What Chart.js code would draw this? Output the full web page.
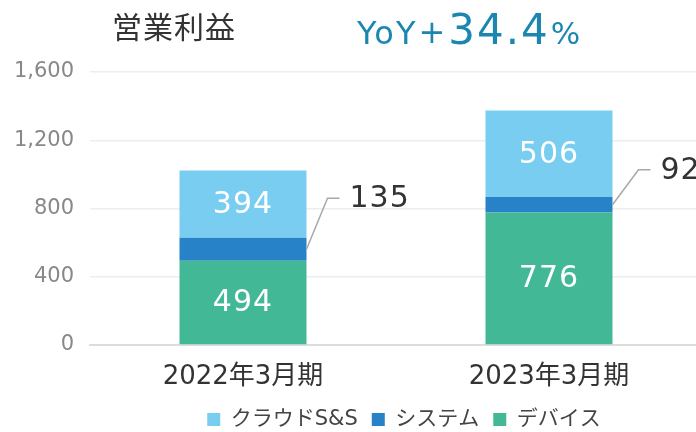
<!DOCTYPE html>
<html>
<head>
<meta charset="utf-8">
<script src="https://cdn.jsdelivr.net/npm/chart.js@4.4.1/dist/chart.umd.min.js"></script>
<style>
  body { margin: 0; overflow: hidden; background: #fff; }
  #wrap { width: 808px; height: 432px; position: relative; }
</style>
</head>
<body>
<div id="wrap"><canvas id="myChart"></canvas></div>
<script>
'use strict';
// data
let periods = ['2022年3月期', '2023年3月期'];
let deviceValues = [494, 776];
let systemValues = [135, 92];
let cloudValues = [394, 506];
let yTicks = [0, 400, 800, 1200, 1600];
let titleText = '営業利益';
let yoyText = '34.4';

let cjkFont = '"Noto Sans CJK JP", sans-serif';
let mixFont = '"DejaVu Sans", "Noto Sans CJK JP", sans-serif';

// leader line offsets for the small システム labels (dx, dy from bar edge)
let leaderOffsets = [[21, -51], [26, -35]];

let headerPlugin = {
    id: 'header',
    afterDraw(chart) {
        let ctx = chart.ctx;
        ctx.save();
        ctx.textBaseline = 'alphabetic';
        ctx.textAlign = 'left';
        ctx.fillStyle = '#333';
        ctx.font = '30px ' + cjkFont;
        ctx.letterSpacing = '1px';
        ctx.fillText(titleText, 112, 38);

        ctx.fillStyle = '#1b87b1';
        ctx.letterSpacing = '2px';
        ctx.font = '32px ' + mixFont;
        let x = 357;
        ctx.fillText('YoY', x, 44);
        x += ctx.measureText('YoY').width + 1;
        ctx.font = '32px ' + mixFont;
        ctx.fillText('+', x, 43);
        x += ctx.measureText('+').width + 1;
        ctx.font = '42px ' + mixFont;
        ctx.fillText(yoyText, x, 44);
        x += ctx.measureText(yoyText).width + 1;
        ctx.font = '31px ' + mixFont;
        ctx.letterSpacing = '0px';
        ctx.fillText('%', x, 44);
        ctx.restore();
    }
};

let labelPlugin = {
    id: 'barLabels',
    afterDatasetsDraw(chart) {
        let ctx = chart.ctx;
        ctx.save();
        ctx.font = '30px ' + mixFont;
        ctx.letterSpacing = '1px';
        chart.data.datasets.forEach(function (ds, di) {
            let meta = chart.getDatasetMeta(di);
            meta.data.forEach(function (bar, i) {
                let mid = (bar.y + bar.base) / 2;
                if (ds.label === 'システム') {
                    let x0 = bar.x + bar.width / 2;
                    let x1 = x0 + leaderOffsets[i][0];
                    let y1 = mid + leaderOffsets[i][1];
                    ctx.strokeStyle = '#a8a8a8';
                    ctx.lineWidth = 1.5;
                    ctx.beginPath();
                    ctx.moveTo(x0, mid);
                    ctx.lineTo(x1, y1);
                    ctx.lineTo(x1 + 12, y1);
                    ctx.stroke();
                    ctx.fillStyle = '#333';
                    ctx.textAlign = 'left';
                    ctx.textBaseline = 'middle';
                    ctx.fillText(String(ds.data[i]), x1 + 22, y1 + 1);
                } else {
                    ctx.fillStyle = '#fff';
                    ctx.textAlign = 'center';
                    ctx.textBaseline = 'middle';
                    ctx.fillText(String(ds.data[i]), bar.x, mid + 1);
                }
            });
        });
        ctx.restore();
    }
};

let ctx = document.getElementById('myChart').getContext('2d');
let myChart = new Chart(ctx, {
    type: 'bar',
    data: {
        labels: periods,
        datasets: [
            { label: 'デバイス', data: deviceValues, backgroundColor: '#43b897' },
            { label: 'システム', data: systemValues, backgroundColor: '#2782c8' },
            { label: 'クラウドS&S', data: cloudValues, backgroundColor: '#79cdf0' }
        ]
    },
    options: {
        responsive: true,
        maintainAspectRatio: false,
        animation: false,
        datasets: {
            bar: { categoryPercentage: 1, barPercentage: 0.415 }
        },
        layout: { padding: { top: 72, left: 0, right: 0, bottom: -8 } },
        plugins: {
            title: { display: false },
            tooltip: { enabled: false },
            legend: {
                position: 'bottom',
                reverse: true,
                labels: {
                    boxWidth: 13,
                    boxHeight: 13,
                    padding: 14,
                    color: '#444',
                    font: { family: mixFont, size: 21 }
                }
            }
        },
        scales: {
            x: {
                stacked: true,
                grid: { display: false, drawTicks: false },
                border: { color: '#dcdcdc', width: 2 },
                ticks: { color: '#333', padding: 17, font: { family: mixFont, size: 26 } },
                afterFit: function (scale) { scale.height = 50; }
            },
            y: {
                stacked: true,
                min: 0,
                max: 1600,
                afterBuildTicks: function (scale) {
                    scale.ticks = yTicks.map(function (v) { return { value: v }; });
                },
                afterFit: function (scale) { scale.width = 90; },
                grid: { color: '#eeeeee', lineWidth: 1.5, drawTicks: false },
                border: { display: false },
                ticks: {
                    color: '#888',
                    padding: 16,
                    font: { family: mixFont, size: 21 },
                    callback: function (v) { return v.toLocaleString('en-US'); }
                }
            },
            // empty right axis only to reserve space past the window edge
            pad: {
                position: 'right',
                display: true,
                grid: { display: false },
                border: { display: false },
                ticks: { display: false },
                afterFit: function (scale) { scale.width = 106; }
            }
        }
    },
    plugins: [headerPlugin, labelPlugin]
});
</script>
</body>
</html>
